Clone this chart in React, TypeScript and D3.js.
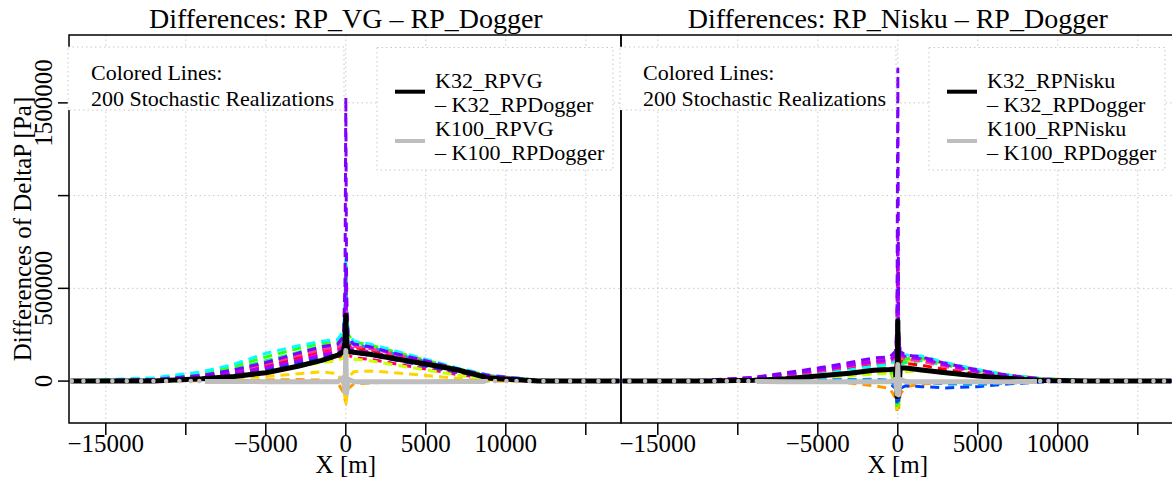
import React, { useEffect, useRef } from 'react';
import * as d3 from 'd3';

// x positions of the model nodes [m]
const xNodes = [-17200, -12000, -9000, -7000, -5000, -3000, -1500, -500, -150, -50, 0, 50, 150, 500, 1500, 3000, 5000, 7000, 9000, 12000, 17100];
// K100 lines only cover the inner part of the domain
const k100Nodes = [-8800, -7000, -5000, -3000, -1500, -500, -150, -50, 0, 50, 150, 500, 1500, 3000, 5000, 7000, 8700];

const xTicks = [-15000, -10000, -5000, 0, 5000, 10000, 15000];
const xTickLabels = ['\u221215000', '', '\u22125000', '0', '5000', '10000', ''];
const yTicks = [0, 500000, 1000000, 1500000];
const yTickLabels = ['0', '500000', '', '1500000'];

// values in kPa
const vgK32 = [0, 1, 12, 25, 45, 80, 112, 140, 160, 210, 355, 200, 160, 155, 145, 122, 92, 60, 15, 1, 0];
const vgK100 = [-2, -2, -3, -3, -3, -3, 20, -60, 165, -65, 10, -3, -3, -3, -3, -2, -2];
const niskuK32 = [0, 1, 4, 12, 28, 42, 58, 62, 65, -85, 325, -80, 70, 70, 60, 45, 28, 14, 3, 0, 0];
const niskuK100 = [-2, -3, -3, -3, -3, -3, 10, -70, 90, -75, 10, -3, -3, -3, -3, -3, -2];

// grey markers of the K100 curves (far field)
const vgDots = [-17125, -16400, -15500, -14590, -13690, -12790, -12025, -11230, -10400, -9690, -9150, 8770, 9330, 10040, 10670, 11480, 12350, 13190, 14020, 14850, 15790, 16730];
const niskuDots = [-16775, -15794, -14900, -13981, -13087, -12250, -11462, -10687, -9962, -9337, -8812, 8475, 8894, 9412, 10100, 10937, 11706, 12500, 13375, 14269, 15144, 15975, 16644];

const realColors = ['#FF9900', '#FFD500', '#00FF80', '#33FF00', '#FF0066', '#FF00CC', '#0040FF', '#FF0000', '#00FFFF', '#CCFF00', '#0099FF', '#FF3399', '#AA00FF', '#8000FF'];

// a selection of the stochastic realizations (kPa)
const vgReal1 = [0, 0, 2, 4, 6, 8, 5, -10, -60, -100, -110, -90, -40, -15, -10, -5, -2, 0, 0, 0, 0];
const vgReal2 = [0, 2, 8, 15, 25, 40, 50, 40, -20, -90, -125, -80, 20, 50, 55, 45, 30, 15, 6, 1, 0];
const vgReal3 = [0, 10, 35, 65, 110, 155, 190, 200, 235, 330, 600, 320, 230, 205, 190, 155, 108, 62, 28, 4, 0];
const vgReal4 = [0, 14, 45, 80, 130, 175, 205, 215, 250, 380, 640, 360, 250, 210, 195, 160, 112, 66, 30, 4, 0];
const vgReal5 = [0, 3, 15, 30, 55, 85, 110, 120, 140, 200, 380, 190, 140, 125, 118, 95, 65, 35, 14, 2, 0];
const vgReal6 = [0, 5, 22, 45, 80, 120, 150, 165, 190, 260, 420, 250, 190, 170, 160, 130, 92, 52, 22, 3, 0];
const vgReal7 = [0, 4, 18, 38, 65, 100, 130, 145, 170, 230, 520, 220, 165, 150, 140, 115, 80, 45, 18, 2, 0];
const vgReal8 = [0, 6, 25, 50, 85, 130, 165, 180, 210, 300, 480, 290, 200, 180, 170, 140, 100, 58, 25, 3, 0];
const vgReal9 = [0, 18, 50, 90, 150, 190, 215, 225, 270, 420, 700, 400, 260, 215, 200, 165, 118, 70, 32, 5, 0];
const vgReal10 = [0, 3, 12, 28, 50, 78, 100, 110, 125, 180, 300, 170, 130, 118, 110, 88, 60, 32, 12, 1, 0];
const vgReal11 = [0, 9, 32, 58, 95, 140, 175, 190, 220, 310, 560, 300, 215, 195, 182, 148, 105, 60, 26, 3, 0];
const vgReal12 = [0, 7, 28, 55, 92, 138, 170, 185, 200, 280, 450, 270, 205, 188, 176, 145, 102, 58, 24, 3, 0];
const vgReal13 = [0, 5, 20, 42, 72, 110, 140, 155, 180, 250, 610, 245, 180, 162, 150, 122, 86, 48, 20, 2, 0];
const vgReal14 = [0, 8, 30, 60, 100, 150, 185, 200, 240, 520, 1530, 480, 230, 200, 185, 150, 110, 65, 30, 4, 0];

const niskuReal1 = [0, 0, 1, 2, 0, -10, -25, -40, -90, -160, -120, -150, -70, -30, -15, -8, -3, 0, 0, 0, 0];
const niskuReal2 = [0, 1, 6, 14, 25, 40, 55, 62, -30, -155, 380, -150, 90, 110, 120, 92, 60, 33, 14, 2, 0];
const niskuReal3 = [0, 1, 5, 12, 20, 32, 45, 50, 60, 110, 350, 100, 90, 100, 110, 85, 55, 30, 12, 2, 0];
const niskuReal4 = [0, 2, 8, 18, 30, 48, 65, 72, -20, -140, 450, -130, 100, 120, 125, 95, 58, 30, 12, 2, 0];
const niskuReal5 = [0, 2, 8, 18, 30, 45, 58, 60, 70, 130, 480, 120, 75, 68, 60, 42, 25, 12, 4, 0, 0];
const niskuReal6 = [0, 4, 18, 40, 62, 90, 112, 118, 140, 250, 700, 240, 150, 135, 125, 90, 55, 28, 10, 1, 0];
const niskuReal7 = [0, 1, 3, 5, 6, 5, 0, -10, -40, -120, 400, -110, -40, -25, -30, -37, -30, -15, -5, 0, 0];
const niskuReal8 = [0, 3, 12, 28, 48, 70, 90, 95, 110, 200, 600, 190, 110, 95, 85, 62, 38, 18, 6, 1, 0];
const niskuReal9 = [0, 2, 10, 22, 38, 60, 80, 90, 110, 180, 520, 200, 150, 140, 135, 100, 62, 32, 12, 2, 0];
const niskuReal10 = [0, 1, 4, 10, 18, 28, 38, 42, 20, -60, 300, -70, 40, 50, 55, 40, 25, 12, 4, 0, 0];
const niskuReal11 = [0, 1, 2, 4, 6, 8, 10, 5, -30, -100, 250, -90, -10, 0, -5, -15, -18, -10, -3, 0, 0];
const niskuReal12 = [0, 3, 14, 32, 52, 78, 100, 105, 125, 220, 650, 215, 130, 118, 108, 78, 48, 24, 8, 1, 0];
const niskuReal13 = [0, 4, 16, 36, 58, 84, 105, 112, 135, 240, 820, 230, 145, 130, 120, 86, 52, 26, 9, 1, 0];
const niskuReal14 = [0, 5, 20, 45, 70, 100, 125, 130, 160, 300, 1690, 280, 160, 140, 130, 95, 60, 30, 12, 2, 0];

const panels = [
  {
    title: 'Differences: RP_VG \u2013 RP_Dogger',
    k32Label: 'K32_RPVG',
    k100Label: 'K100_RPVG',
    k32: vgK32,
    k100: vgK100,
    dots: vgDots,
    reals: [vgReal1, vgReal2, vgReal3, vgReal4, vgReal5, vgReal6, vgReal7, vgReal8, vgReal9, vgReal10, vgReal11, vgReal12, vgReal13, vgReal14],
    left: 69,
    right: 621,
    yAxis: true,
  },
  {
    title: 'Differences: RP_Nisku \u2013 RP_Dogger',
    k32Label: 'K32_RPNisku',
    k100Label: 'K100_RPNisku',
    k32: niskuK32,
    k100: niskuK100,
    dots: niskuDots,
    reals: [niskuReal1, niskuReal2, niskuReal3, niskuReal4, niskuReal5, niskuReal6, niskuReal7, niskuReal8, niskuReal9, niskuReal10, niskuReal11, niskuReal12, niskuReal13, niskuReal14],
    left: 621,
    right: 1173,
    yAxis: false,
  },
];

const FONT = "'Liberation Serif', 'Times New Roman', serif";

function App() {
  const svgRef = useRef<SVGSVGElement>(null);
  const width = 1172;
  const height = 478;

  useEffect(() => {
    if (!svgRef.current) return;
    const svg = d3.select(svgRef.current);
    svg.selectAll('*').remove();

    const top = 35;
    const bottom = 423;
    const yScale = d3.scaleLinear().domain([-226000, 1866000]).range([bottom, top]);

    panels.forEach((p, pi) => {
      const xScale = d3.scaleLinear().domain([-17300, 17200]).range([p.left, p.right]);
      const g = svg.append('g').attr('font-family', FONT);

      const clipId = `clip-${pi}`;
      g.append('clipPath').attr('id', clipId)
        .append('rect')
        .attr('x', p.left).attr('y', top)
        .attr('width', p.right - p.left).attr('height', bottom - top);

      // grid
      const grid = g.append('g').attr('clip-path', `url(#${clipId})`)
        .attr('stroke', '#c8c8c8').attr('stroke-width', 1).attr('stroke-dasharray', '1.5,3');
      xTicks.forEach(t => {
        grid.append('line').attr('x1', xScale(t)).attr('x2', xScale(t)).attr('y1', top).attr('y2', bottom);
      });
      yTicks.forEach(t => {
        grid.append('line').attr('x1', p.left).attr('x2', p.right).attr('y1', yScale(t)).attr('y2', yScale(t));
      });

      const plot = g.append('g').attr('clip-path', `url(#${clipId})`);
      const line = d3.line<number>()
        .x((_, i) => xScale(xNodes[i]))
        .y(d => yScale(d * 1000));
      const lineK100 = d3.line<number>()
        .x((_, i) => xScale(k100Nodes[i]))
        .y(d => yScale(d * 1000));

      p.reals.forEach((r, i) => {
        plot.append('path')
          .attr('d', line(r))
          .attr('fill', 'none')
          .attr('stroke', realColors[i % realColors.length])
          .attr('stroke-width', 3)
          .attr('stroke-dasharray', '9,6');
      });

      plot.append('path')
        .attr('d', line(p.k32))
        .attr('fill', 'none')
        .attr('stroke', '#000')
        .attr('stroke-width', 5)
        .attr('stroke-linejoin', 'round');

      plot.append('path')
        .attr('d', lineK100(p.k100))
        .attr('fill', 'none')
        .attr('stroke', '#bebebe')
        .attr('stroke-width', 5)
        .attr('stroke-linejoin', 'round');

      plot.selectAll('.dot')
        .data(p.dots)
        .enter().append('circle')
        .attr('cx', d => xScale(d))
        .attr('cy', yScale(0))
        .attr('r', 2.3)
        .attr('fill', '#bebebe');

      // frame
      g.append('rect')
        .attr('x', p.left).attr('y', top)
        .attr('width', p.right - p.left).attr('height', bottom - top)
        .attr('fill', 'none').attr('stroke', '#000').attr('stroke-width', 1.5);

      // x axis
      xTicks.forEach((t, i) => {
        g.append('line')
          .attr('x1', xScale(t)).attr('x2', xScale(t))
          .attr('y1', bottom).attr('y2', bottom + 12)
          .attr('stroke', '#000').attr('stroke-width', 1.5);
        if (xTickLabels[i]) {
          g.append('text')
            .attr('x', xScale(t)).attr('y', 452)
            .attr('text-anchor', 'middle')
            .style('font-size', '25px')
            .text(xTickLabels[i]);
        }
      });
      g.append('text')
        .attr('x', xScale(0)).attr('y', 473)
        .attr('text-anchor', 'middle')
        .style('font-size', '25px')
        .text('X [m]');

      // y axis
      if (p.yAxis) {
        yTicks.forEach((t, i) => {
          g.append('line')
            .attr('x1', p.left - 11).attr('x2', p.left)
            .attr('y1', yScale(t)).attr('y2', yScale(t))
            .attr('stroke', '#000').attr('stroke-width', 1.5);
          if (yTickLabels[i]) {
            g.append('text')
              .attr('transform', `translate(52,${yScale(t)}) rotate(-90)`)
              .attr('text-anchor', 'middle')
              .style('font-size', '25px')
              .text(yTickLabels[i]);
          }
        });
        g.append('text')
          .attr('transform', `translate(31,${(top + bottom) / 2}) rotate(-90)`)
          .attr('text-anchor', 'middle')
          .style('font-size', '25px')
          .text('Differences of DeltaP [Pa]');
      }

      // title
      g.append('text')
        .attr('x', xScale(0)).attr('y', 28)
        .attr('text-anchor', 'middle')
        .style('font-size', '28px')
        .text(p.title);

      // legend: colored lines
      const l1x = p.left - 1;
      g.append('rect')
        .attr('x', l1x).attr('y', 47)
        .attr('width', 276).attr('height', 63)
        .attr('fill', '#fff')
        .attr('stroke', '#c8c8c8').attr('stroke-dasharray', '1.5,3');
      g.append('text').attr('x', p.left + 22).attr('y', 80)
        .style('font-size', '22px').text('Colored Lines:');
      g.append('text').attr('x', p.left + 22).attr('y', 106)
        .style('font-size', '22px').text('200 Stochastic Realizations');

      // legend: K32 / K100
      const l2x = p.right - 244;
      g.append('rect')
        .attr('x', l2x).attr('y', 47.5)
        .attr('width', 236).attr('height', 122.5)
        .attr('fill', '#fff')
        .attr('stroke', '#c8c8c8').attr('stroke-dasharray', '1.5,3');
      g.append('line')
        .attr('x1', l2x + 18).attr('x2', l2x + 48)
        .attr('y1', 91.7).attr('y2', 91.7)
        .attr('stroke', '#000').attr('stroke-width', 4);
      g.append('line')
        .attr('x1', l2x + 18).attr('x2', l2x + 48)
        .attr('y1', 141).attr('y2', 141)
        .attr('stroke', '#bebebe').attr('stroke-width', 4);
      const legendLines = [p.k32Label, '\u2013 K32_RPDogger', p.k100Label, '\u2013 K100_RPDogger'];
      legendLines.forEach((s, i) => {
        g.append('text')
          .attr('x', l2x + 58).attr('y', 88 + i * 24)
          .style('font-size', '22px')
          .text(s);
      });
    });
  }, []);

  return (
    <svg
      ref={svgRef}
      width={width}
      height={height}
      style={{ position: 'absolute', left: 0, top: 0, background: '#fff' }}
    />
  );
}

export default App;
